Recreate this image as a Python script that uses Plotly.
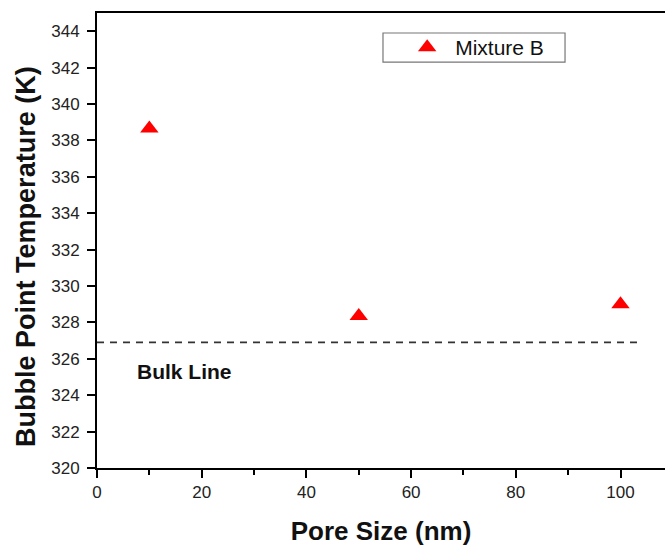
import plotly.graph_objects as go

pore_size = [10, 50, 100]
bubble_temp = [338.65, 328.35, 329.0]
bulk_x = [0, 104]
bulk_y = [326.9, 326.9]
x_ticks = [0, 20, 40, 60, 80, 100]
y_ticks = [320, 322, 324, 326, 328, 330, 332, 334, 336, 338, 340, 342, 344]

fig = go.Figure()
fig.add_trace(go.Scatter(
    x=bulk_x, y=bulk_y, mode="lines",
    line=dict(color="#333333", width=1.8, dash="7px,6px"),
    showlegend=False, hoverinfo="skip"))
fig.add_trace(go.Scatter(
    x=pore_size, y=bubble_temp, mode="markers", name="Mixture B",
    marker=dict(symbol="triangle-up", color="#ff0000", size=16, line=dict(width=0))))

fig.add_annotation(x=7.2, y=325.3, text="<b>Bulk Line</b>", showarrow=False,
                   xanchor="left", yanchor="middle",
                   font=dict(family="Arial, Liberation Sans", size=21, color="#111111"))

# y-axis title (placed as annotation to match vertical offset)
fig.add_annotation(xref="paper", yref="paper", x=-0.125, y=0.464,
                   text="<b>Bubble Point Temperature (K)</b>", textangle=-90,
                   showarrow=False, xanchor="center", yanchor="middle",
                   font=dict(family="Arial, Liberation Sans", size=27, color="#111111"))

# legend frame
fig.add_shape(type="rect", xref="paper", yref="paper",
              x0=0.5035, x1=0.824, y0=0.892, y1=0.956,
              line=dict(color="#777777", width=1.2), fillcolor="white", layer="below")

axis_font = dict(family="Arial, Liberation Sans", size=17, color="#222222")
fig.update_layout(
    width=665, height=547,
    margin=dict(l=97, r=0, t=13, b=79),
    plot_bgcolor="white", paper_bgcolor="white",
    font=axis_font,
    legend=dict(x=0.532, y=0.924, xanchor="left", yanchor="middle",
                borderwidth=0, bgcolor="rgba(0,0,0,0)",
                font=dict(family="Arial, Liberation Sans", size=21, color="#111111"),
                itemwidth=46),
    xaxis=dict(range=[0, 108.5], tickvals=x_ticks, ticks="outside", ticklen=8,
               tickwidth=1.5, tickcolor="black", showline=True, linecolor="black",
               linewidth=2, mirror=True, showgrid=False, zeroline=False,
               minor=dict(tickvals=[10, 30, 50, 70, 90], ticks="outside", ticklen=5,
                          tickwidth=1.5, tickcolor="black"),
               title=dict(text="<b>Pore Size (nm)</b>", standoff=20,
                          font=dict(family="Arial, Liberation Sans", size=26, color="#111111"))),
    yaxis=dict(range=[320, 345], tickvals=y_ticks, ticks="outside", ticklen=8,
               tickwidth=1.5, tickcolor="black", showline=True, linecolor="black",
               linewidth=2, mirror=False, showgrid=False, zeroline=False,
               ticklabelstandoff=4),
)
fig.write_html("out.html")
